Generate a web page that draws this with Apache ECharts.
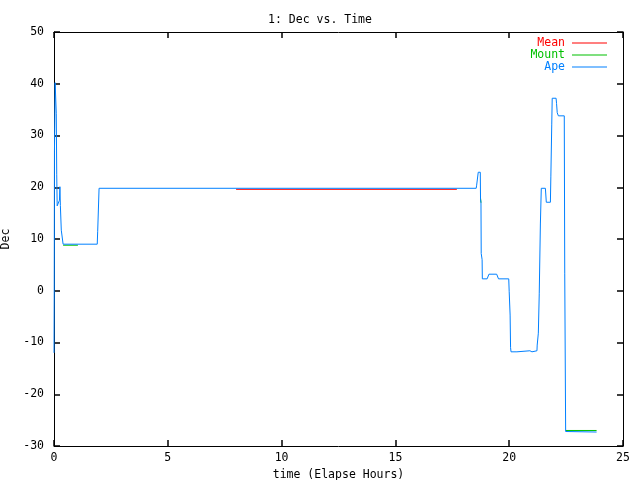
<!DOCTYPE html>
<html>
<head>
<meta charset="utf-8">
<script src="https://cdn.jsdelivr.net/npm/echarts@6/dist/echarts.min.js"></script>
<style>html,body{margin:0;padding:0;background:#fff}#c{width:640px;height:480px}</style>
</head>
<body>
<div id="c"></div>
<script>
var title = '1: Dec vs. Time';
var xName = 'time (Elapse Hours)';
var yName = 'Dec';
var seriesNames = ['Mean', 'Mount', 'Ape'];
var seriesColors = ['#ff0000', '#00c000', '#0080ff'];

var meanData = [[8.0, 19.6], [17.7, 19.6]];

// Mount mostly lies under Ape; only the parts where it departs are kept
var mountData = [
  [0.40, 8.8], [1.05, 8.8], null,
  [18.74, 17.9], [18.76, 17.0], null,
  [21.02, -11.5], [21.05, -11.5], null,
  [22.48, -27.0], [23.84, -27.0]
];

var apeData = [
  [0.00, -12], [0.01, 0], [0.02, 27], [0.05, 40.2], [0.09, 40.2], [0.10, 34.3], [0.12, 22.4],
  [0.14, 16.4], [0.22, 16.4], [0.24, 17.5], [0.26, 20.1], [0.28, 16.5], [0.32, 11.7],
  [0.40, 9.0], [1.90, 9.0], [1.92, 11.5], [1.98, 19.8],
  [18.55, 19.8], [18.57, 20.4], [18.62, 20.4], [18.64, 22.9], [18.73, 22.9], [18.74, 17.7],
  [18.76, 17.0], [18.77, 7.2], [18.81, 6.0], [18.82, 2.3], [19.03, 2.3], [19.11, 3.2],
  [19.45, 3.2], [19.53, 2.3], [19.98, 2.3], [20.00, -0.2], [20.04, -4.7], [20.06, -11.0],
  [20.08, -11.8], [20.34, -11.8], [20.36, -11.6], [20.91, -11.6], [20.93, -11.8], [21.00, -11.8],
  [21.02, -11.6], [21.22, -11.6], [21.23, -10.5], [21.28, -8.2], [21.32, -0.6], [21.37, 12.9],
  [21.41, 19.8], [21.59, 19.8], [21.61, 18.5], [21.63, 17.1], [21.81, 17.1], [21.83, 22.0],
  [21.87, 32.2], [21.89, 37.2], [22.06, 37.2], [22.08, 36.2], [22.11, 34.4], [22.16, 33.8],
  [22.42, 33.8], [22.44, 3.4], [22.48, -27.2], [22.52, -27.3], [23.84, -27.3]
];

var xTicks = [0, 5, 10, 15, 20, 25];
var yTicks = [-30, -20, -10, 0, 10, 20, 30, 40, 50];

var font = 'DejaVu Sans Mono';
var fs = 11.5;
var chart = echarts.init(document.getElementById('c'), null, {renderer: 'canvas'});

var xMin = xTicks[0], xMax = xTicks[xTicks.length - 1], xInt = xTicks[1] - xTicks[0];
var yMin = yTicks[0], yMax = yTicks[yTicks.length - 1], yInt = yTicks[1] - yTicks[0];

function lineAx() { return {show: true, onZero: false, lineStyle: {color: '#000', width: 1}}; }
function tickAx() { return {show: true, inside: true, length: 6, lineStyle: {color: '#000', width: 1.5}}; }
var labelStyle = {color: '#000', fontFamily: font, fontSize: fs};

var option = {
  backgroundColor: '#fff',
  animation: false,
  title: {
    text: title, left: 'center', top: 9,
    textStyle: {fontFamily: font, fontSize: fs, fontWeight: 'normal', color: '#000'}
  },
  grid: {left: 54, right: 17, top: 32, bottom: 34, outerBoundsMode: 'none'},
  legend: {
    orient: 'vertical', right: 33, top: 37, align: 'right',
    itemWidth: 35, itemHeight: 11, itemGap: 0, padding: 0,
    icon: 'path://M0 0H35V1H0Z',
    selectedMode: false,
    data: seriesNames.map(function (n, i) {
      return {name: n, textStyle: {color: seriesColors[i]}};
    }),
    textStyle: {fontFamily: font, fontSize: fs, lineHeight: 11, padding: [0, 2, 0, 0]}
  },
  xAxis: [
    {type: 'value', min: xMin, max: xMax, interval: xInt, position: 'bottom',
     axisLine: lineAx(), axisTick: tickAx(), splitLine: {show: false},
     axisLabel: {show: true, color: '#000', fontFamily: font, fontSize: fs, margin: 6},
     name: xName, nameLocation: 'middle', nameGap: 22, nameTextStyle: labelStyle},
    {type: 'value', min: xMin, max: xMax, interval: xInt, position: 'top',
     axisLine: lineAx(), axisTick: tickAx(), splitLine: {show: false}, axisLabel: {show: false}}
  ],
  yAxis: [
    {type: 'value', min: yMin, max: yMax, interval: yInt, position: 'left',
     axisLine: lineAx(), axisTick: tickAx(), splitLine: {show: false},
     axisLabel: {show: true, color: '#000', fontFamily: font, fontSize: fs, margin: 10},
     name: yName, nameLocation: 'middle', nameGap: 36, nameRotate: 90, nameTextStyle: labelStyle},
    {type: 'value', min: yMin, max: yMax, interval: yInt, position: 'right',
     axisLine: lineAx(), axisTick: tickAx(), splitLine: {show: false}, axisLabel: {show: false}}
  ],
  series: [
    {name: seriesNames[0], type: 'line', data: meanData, showSymbol: false, symbol: 'none',
     lineStyle: {color: seriesColors[0], width: 1}, itemStyle: {color: seriesColors[0]}},
    {name: seriesNames[1], type: 'line', data: mountData, showSymbol: false, symbol: 'none', connectNulls: false,
     lineStyle: {color: seriesColors[1], width: 1}, itemStyle: {color: seriesColors[1]}},
    {name: seriesNames[2], type: 'line', data: apeData, showSymbol: false, symbol: 'none',
     lineStyle: {color: seriesColors[2], width: 1}, itemStyle: {color: seriesColors[2]}}
  ]
};
chart.setOption(option);
</script>
</body>
</html>
